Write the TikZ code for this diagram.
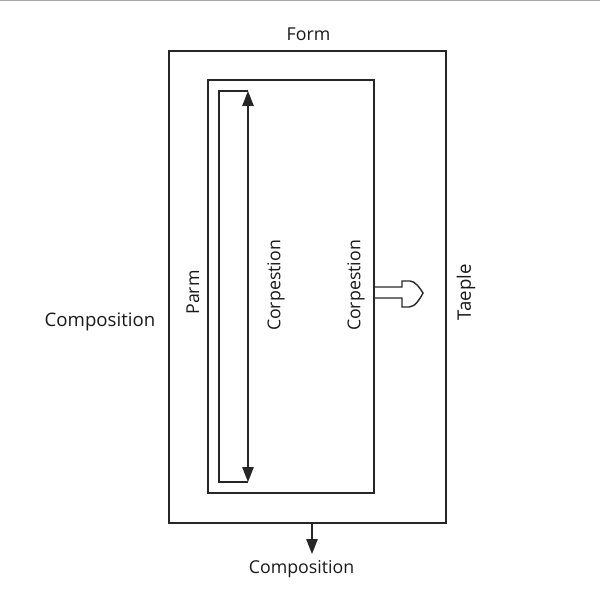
\documentclass[tikz,border=0pt]{standalone}
\usepackage{fontspec}
\setmainfont{Open Sans}
\usetikzlibrary{arrows.meta}
\definecolor{linegray}{HTML}{262626}
\tikzset{
  boxline/.style={draw=linegray,line width=0.9pt,rectangle,inner sep=0pt},
  linktip/.style={-{Triangle[length=8.5pt,width=6.5pt]},draw=linegray,line width=0.8pt},
  lbl/.style={text=black!90,font=\fontsize{10.1}{12}\selectfont,inner sep=0pt},
}
\begin{document}
\begin{tikzpicture}[x=0.02cm,y=-0.02cm]
          \useasboundingbox (0,0) rectangle (600,600);
          \draw[gray!70,line width=1pt] (0,0.5) -- (600,0.5);
          \node (formbox) at (307.5,287) [boxline,minimum width=5.54cm,minimum height=9.44cm] {};
          \node (partbox) at (291,286.5) [boxline,minimum width=3.32cm,minimum height=8.26cm] {};
          \coordinate (railtop) at (248,91);
          \coordinate (railbot) at (248,482);
          \coordinate (railtl) at (219,91);
          \coordinate (railbl) at (219,482);
          \draw[draw=linegray,line width=0.8pt] (railtop) -- (railtl) -- (railbl) -- (railbot);
          \draw[linktip] (railtop) ++(0,20) -- (railtop);
          \draw[linktip] (railtop) ++(0,20) -- (railbot);
          % hollow outlet
          \coordinate (outa) at (374.5,287);
          \coordinate (outb) at (374.5,298);
          \draw[draw=linegray,line width=0.8pt] (outa) -- (402,287) -- (402,281) -- (410,281)
          .. controls (415,281) and (420,288) .. (423,293)
          .. controls (420,299) and (415,307) .. (409,307) -- (402,307) -- (402,298) -- (outb);
          \coordinate (downtail) at (312,523);
          \coordinate (downtip) at (312,554);
          \draw[linktip] (downtail) -- (downtip);
          \node (formlbl) at (308.5,34) [lbl] {Form};
          \node (leftlbl) at (100,322) [lbl,font=\fontsize{10.6}{12}\selectfont] {Composition};
          \node (parmlbl) at (193,292.5) [lbl,rotate=90] {Parm};
          \node (corpa) at (276,285.5) [lbl,rotate=90] {Corpestion};
          \node (corpb) at (356,285.5) [lbl,rotate=90] {Corpestion};
          \node (taeple) at (466,292.5) [lbl,rotate=90,font=\fontsize{10.6}{12}\selectfont] {Taeple};
          \node (botlbl) at (301.5,569) [lbl] {Composition};
        \end{tikzpicture}
\end{document}
